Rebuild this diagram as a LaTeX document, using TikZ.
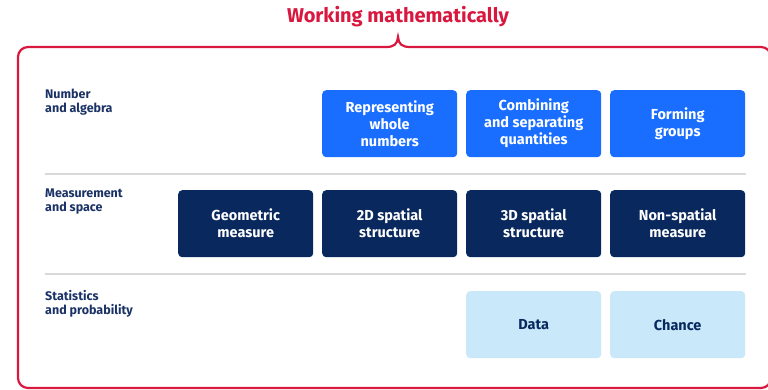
\documentclass[tikz,border=0pt]{standalone}
\usepackage{fontspec}
\setmainfont{Fira Sans}
\definecolor{wmred}{HTML}{D8183F}
\definecolor{nablue}{HTML}{1A6EFF}
\definecolor{msnavy}{HTML}{08285E}
\definecolor{splight}{HTML}{C9E9FB}
\definecolor{labnavy}{HTML}{1B3266}
\definecolor{sepgray}{HTML}{D9D9D9}
\begin{document}
\begin{tikzpicture}[x=1pt,y=-1pt,
  cell/.style={rounded corners=4pt,minimum width=135pt,minimum height=67pt,inner sep=0pt,
    align=center,font=\fontsize{14.5}{17}\selectfont\bfseries,anchor=north west},
  nabox/.style={cell,fill=nablue,text=white},
  msbox/.style={cell,fill=msnavy,text=white},
  spbox/.style={cell,fill=splight,text=msnavy},
  strand/.style={anchor=north west,align=left,inner sep=0pt,text=labnavy,
    font=\fontsize{12.5}{14}\selectfont\bfseries},
  sep/.style={draw=sepgray,line width=1.5pt}]
\useasboundingbox (0,0) rectangle (768,389);
\begin{scope}
\clip (0,0) rectangle (768,389);
\draw[wmred,line width=2.2pt,rounded corners=10pt]
  (386,47) -- (18,47) -- (18,388) -- (771,388) -- (771,47) -- (410,47);
\draw[wmred,line width=2.2pt] (386,47) .. controls (394,47) and (397.5,44) .. (398,37)
  .. controls (398.5,44) and (402,47) .. (410,47);
\end{scope}
\node[text=wmred,font=\fontsize{20}{22}\selectfont\bfseries] (title) at (398,17) {Working mathematically};
% strand labels
\node[strand] (na) at (45,89) {Number\\and algebra};
\node[strand] (ms) at (45,189) {Measurement\\and space};
\node[strand] (sp) at (45,290) {Statistics\\and probability};
% separators
\coordinate (s1a) at (45,174); \coordinate (s1b) at (746,174);
\coordinate (s2a) at (45,274); \coordinate (s2b) at (746,274);
\draw[sep] (s1a) -- (s1b);
\draw[sep] (s2a) -- (s2b);
% row 1
\node[nabox] (rep) at (322,90) {Representing\\whole\\numbers};
\node[nabox] (comb) at (466,90) {Combining\\and separating\\quantities};
\node[nabox] (form) at (610,90) {Forming\\groups};
% row 2
\node[msbox] (geo) at (178,190) {Geometric\\measure};
\node[msbox] (twod) at (322,190) {2D spatial\\structure};
\node[msbox] (threed) at (466,190) {3D spatial\\structure};
\node[msbox] (nonsp) at (610,190) {Non-spatial\\measure};
% row 3
\node[spbox] (data) at (466,291) {Data};
\node[spbox] (chance) at (610,291) {Chance};
\end{tikzpicture}
\end{document}
